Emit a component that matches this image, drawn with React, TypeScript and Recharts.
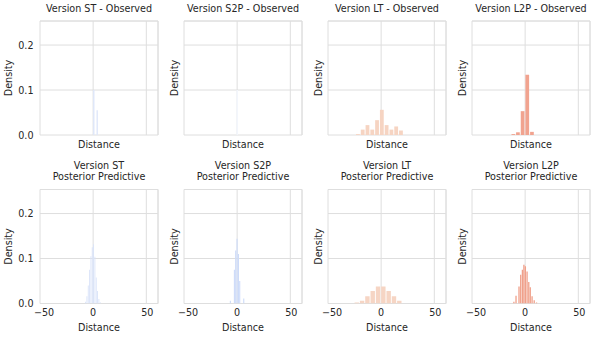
import { Bar, BarChart, CartesianGrid, ReferenceLine, XAxis, YAxis } from "recharts";

const FONT = "'DejaVu Sans', sans-serif";
const INK = "#262626";
const GRID = "#dedede";

const X_MIN = -50;
const X_MAX = 61;
const Y_MAX = 0.2535;
const xTicks = [-50, 0, 50];
const yTicks = [0, 0.1, 0.2];

// histogram bin centres (distance) and densities
const stObsBins = [0.6, 3.8];
const stObsDensity = [0.1, 0.055];
const s2pObsBins = [0.3];
const s2pObsDensity = [0.1];
const ltObsBins = [-21.4, -16.9, -12.4, -7.9, -3.4, 1.1, 5.6, 10.1, 14.6, 19.1];
const ltObsDensity = [0.002, 0.012, 0.022, 0.012, 0.033, 0.056, 0.022, 0.012, 0.019, 0.01];
const l2pObsBins = [-10.7, -6.4, -2.0, 2.4, 6.8];
const l2pObsDensity = [0.002, 0.006, 0.053, 0.134, 0.007];

const stPredBins = [-6.9, -5.65, -4.4, -3.15, -1.9, -0.65, 0.6, 1.85, 3.1, 4.35, 5.6, 6.85];
const stPredDensity = [0.004, 0.016, 0.04, 0.075, 0.105, 0.125, 0.132, 0.104, 0.058, 0.028, 0.01, 0.003];
const s2pPredBins = [-6.3, -2.5, -1.3, 0, 1.3, 2.5, 6.3];
const s2pPredDensity = [0.006, 0.075, 0.118, 0.144, 0.11, 0.05, 0.011];
const ltPredBins = [-22.5, -17.5, -12.5, -7.5, -2.5, 2.5, 7.5, 12.5, 17.5];
const ltPredDensity = [0.002, 0.006, 0.016, 0.028, 0.038, 0.038, 0.028, 0.016, 0.006];
const l2pPredBins = [-10.5, -8.5, -5.7, -4.1, -2.5, -1.1, 0.3, 1.9, 3.5, 4.9, 6.6, 8.6, 10.8];
const l2pPredDensity = [0.004, 0.017, 0.038, 0.064, 0.075, 0.086, 0.083, 0.071, 0.048, 0.036, 0.016, 0.007, 0.002];

const PLOT_LEFT = [40, 184, 328, 472];
const PLOT_W = 118;
const PLOT_H = 114;
const ROWS = [
  { chartTop: 14, mt: 7, xH: 26, titleTop: 3, distDy: 9 },
  { chartTop: 182, mt: 7.5, xH: 32, titleTop: 160.2, distDy: 23.5 },
];

// matplotlib's labels sit a little right of the tick
const X_LABEL_SHIFT: Record<number, number> = { [-50]: 4, 0: 0, 50: 1 };

const fmtX = (v: number) => (v < 0 ? `\u2212${-v}` : `${v}`);

type PanelProps = {
  title: string[];
  bins: number[];
  density: number[];
  color: string;
  barSize: number;
  col: number;
  row: number;
};

function Panel({ title, bins, density, color, barSize, col, row }: PanelProps) {
  const data = bins.map((x, i) => ({ x, density: density[i] }));
  const r = ROWS[row];
  const yW = col === 0 ? 40 : 20;
  const left = PLOT_LEFT[col] - yW;
  const densDx = col === 0 ? 8.7 : yW - 9.4;
  const textStyle = { fill: INK, fontSize: 9.6, fontFamily: FONT };

  const densityLabel = (p: any) => {
    const vb = p.viewBox;
    const cx = vb.x + densDx;
    const cy = vb.y + vb.height / 2;
    return (
      <text
        x={cx}
        y={cy}
        transform={`rotate(-90 ${cx} ${cy})`}
        textAnchor="middle"
        dominantBaseline="central"
        {...textStyle}
      >
        Density
      </text>
    );
  };

  const distanceLabel = (p: any) => {
    const vb = p.viewBox;
    return (
      <text
        x={vb.x + vb.width / 2}
        y={vb.y + r.distDy}
        textAnchor="middle"
        dominantBaseline="central"
        {...textStyle}
      >
        Distance
      </text>
    );
  };

  const xTick = (p: any) => {
    if (row === 0) return <g />;
    const v = p.payload.value as number;
    return (
      <text
        x={p.x + (X_LABEL_SHIFT[v] ?? 0)}
        y={p.y}
        dy="0.71em"
        textAnchor="middle"
        {...textStyle}
      >
        {fmtX(v)}
      </text>
    );
  };

  const yTick = (p: any) => {
    if (col !== 0) return <g />;
    return (
      <text
        x={p.x}
        y={p.y}
        textAnchor="end"
        dominantBaseline="central"
        {...textStyle}
      >
        {(p.payload.value as number).toFixed(1)}
      </text>
    );
  };

  return (
    <>
      <div
        style={{
          position: "absolute",
          left: PLOT_LEFT[col] - 20,
          width: PLOT_W + 40,
          top: r.titleTop,
          textAlign: "center",
          fontSize: 9.6,
          lineHeight: "11px",
          color: INK,
          fontFamily: FONT,
        }}
      >
        {title.map((t) => (
          <div key={t}>{t}</div>
        ))}
      </div>
      <div style={{ position: "absolute", left, top: r.chartTop }}>
        <BarChart
          width={yW + PLOT_W + 2}
          height={r.mt + PLOT_H + r.xH}
          data={data}
          margin={{ top: r.mt, right: 2, bottom: 0, left: 0 }}
        >
          <CartesianGrid stroke={GRID} strokeWidth={1} />
          <XAxis
            type="number"
            dataKey="x"
            domain={[X_MIN, X_MAX]}
            ticks={xTicks}
            allowDataOverflow
            height={r.xH}
            axisLine={false}
            tickLine={false}
            tickSize={4}
            tickMargin={2}
            tick={xTick}
            label={distanceLabel}
          />
          <YAxis
            type="number"
            domain={[0, Y_MAX]}
            ticks={yTicks}
            allowDataOverflow
            width={yW}
            axisLine={false}
            tickLine={false}
            tickSize={4}
            tickMargin={2.5}
            tick={yTick}
            label={densityLabel}
          />
          <ReferenceLine x={X_MAX} stroke={GRID} strokeWidth={1} />
          <ReferenceLine y={Y_MAX} stroke={GRID} strokeWidth={1} />
          <Bar
            dataKey="density"
            fill={color}
            barSize={barSize}
            isAnimationActive={false}
          />
        </BarChart>
      </div>
    </>
  );
}

export default function App() {
  return (
    <div
      style={{
        position: "absolute",
        left: 0,
        top: 0,
        width: 595,
        height: 337,
        background: "#ffffff",
        fontFamily: FONT,
      }}
    >
      <Panel title={["Version ST - Observed"]} bins={stObsBins} density={stObsDensity} color="#dfe7fa" barSize={1.4} col={0} row={0} />
      <Panel title={["Version S2P - Observed"]} bins={s2pObsBins} density={s2pObsDensity} color="#f4f7fe" barSize={1.4} col={1} row={0} />
      <Panel title={["Version LT - Observed"]} bins={ltObsBins} density={ltObsDensity} color="#f6d4c2" barSize={3.8} col={2} row={0} />
      <Panel title={["Version L2P - Observed"]} bins={l2pObsBins} density={l2pObsDensity} color="#f1a38f" barSize={3.7} col={3} row={0} />
      <Panel title={["Version ST", "Posterior Predictive"]} bins={stPredBins} density={stPredDensity} color="#d9e3f9" barSize={0.9} col={0} row={1} />
      <Panel title={["Version S2P", "Posterior Predictive"]} bins={s2pPredBins} density={s2pPredDensity} color="#cddbf9" barSize={1.1} col={1} row={1} />
      <Panel title={["Version LT", "Posterior Predictive"]} bins={ltPredBins} density={ltPredDensity} color="#f6d5c4" barSize={4.4} col={2} row={1} />
      <Panel title={["Version L2P", "Posterior Predictive"]} bins={l2pPredBins} density={l2pPredDensity} color="#f0a08a" barSize={1.3} col={3} row={1} />
    </div>
  );
}
